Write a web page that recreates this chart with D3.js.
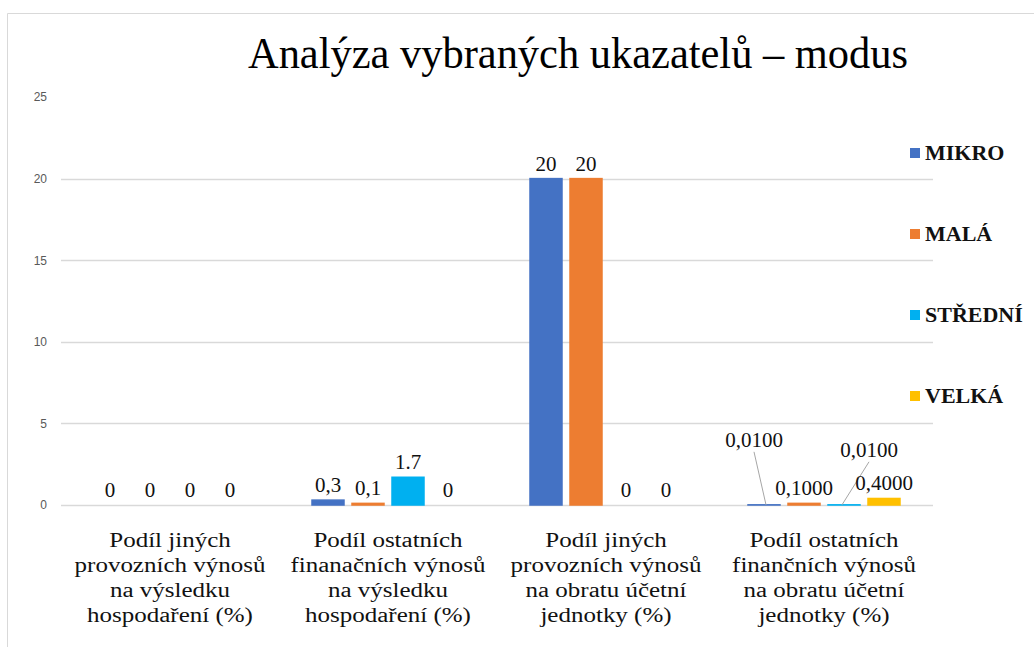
<!DOCTYPE html>
<html>
<head>
<meta charset="utf-8">
<script src="https://cdn.jsdelivr.net/npm/d3@7"></script>
<style>
  body { margin: 0; background: #fff; }
  svg { display: block; }
  .serif { font-family: 'Liberation Serif', 'Times New Roman', serif; }
  .sans { font-family: 'Liberation Sans', Arial, sans-serif; }
</style>
</head>
<body>
<div id="chart"></div>
<script>
var width = 1034;
var height = 647;

// data
var categories = [
    ['Podíl jiných', 'provozních výnosů', 'na výsledku', 'hospodaření (%)'],
    ['Podíl ostatních', 'finanačních výnosů', 'na výsledku', 'hospodaření (%)'],
    ['Podíl jiných', 'provozních výnosů', 'na obratu účetní', 'jednotky (%)'],
    ['Podíl ostatních', 'finančních výnosů', 'na obratu účetní', 'jednotky (%)']
];
var seriesNames = ['MIKRO', 'MALÁ', 'STŘEDNÍ', 'VELKÁ'];
var mikro = [0, 0.3, 20, 0.01];
var mala = [0, 0.1, 20, 0.1];
var stredni = [0, 1.7, 0, 0.01];
var velka = [0, 0, 0, 0.4];
var mikroLabels = ['0', '0,3', '20', '0,0100'];
var malaLabels = ['0', '0,1', '20', '0,1000'];
var stredniLabels = ['0', '1.7', '0', '0,0100'];
var velkaLabels = ['0', '0', '0', '0,4000'];
var yTicks = [0, 5, 10, 15, 20, 25];

var colors = ['#4472C4', '#ED7D31', '#00B0F0', '#FFC000'];
var values = [mikro, mala, stredni, velka];
var labels = [mikroLabels, malaLabels, stredniLabels, velkaLabels];

// moved labels with leader lines (series index, category index)
var moved = { '0-3': [-10, -50], '2-3': [25, -40] };

var svg = d3.select('#chart').append('svg')
    .attr('width', width)
    .attr('height', height);

// outer frame
svg.append('path')
    .attr('d', 'M7.5,647 V13.5 H1034')
    .attr('fill', 'none')
    .attr('stroke', '#d9d9d9');

// title
svg.append('text')
    .attr('class', 'serif')
    .attr('x', 578)
    .attr('y', 68)
    .attr('text-anchor', 'middle')
    .attr('font-size', 44)
    .attr('textLength', 660)
    .attr('lengthAdjust', 'spacingAndGlyphs')
    .attr('fill', '#000')
    .text('Analýza vybraných ukazatelů – modus');

// scales
var x0 = d3.scaleBand()
    .domain(d3.range(categories.length))
    .range([61, 933]);

var x1 = d3.scaleBand()
    .domain(d3.range(seriesNames.length))
    .range([33, 185])
    .paddingInner(0.2);

var y = d3.scaleLinear()
    .domain([0, 25])
    .range([505, 97]);

// gridlines
svg.append('g').selectAll('line')
    .data(yTicks.filter(d => d < 25))
    .enter().append('line')
    .attr('x1', 61)
    .attr('x2', 933)
    .attr('y1', d => Math.round(y(d)) + 0.5)
    .attr('y2', d => Math.round(y(d)) + 0.5)
    .attr('stroke', '#d9d9d9')
    .attr('stroke-width', 1.3);

// y axis labels
var yAxis = d3.axisLeft(y).tickValues(yTicks).tickSize(0).tickPadding(0);
var yAxis_g = svg.append('g')
    .attr('transform', 'translate(47,0)')
    .call(yAxis);
yAxis_g.select('.domain').remove();
yAxis_g.attr('font-family', null);
yAxis_g.selectAll('text')
    .attr('class', 'sans')
    .attr('font-size', 12)
    .attr('fill', '#595959');

// bars
var groups = svg.append('g').selectAll('g')
    .data(categories)
    .enter().append('g')
    .attr('transform', (d, i) => `translate(${x0(i)},0)`);

seriesNames.forEach(function (name, s) {
    groups.append('rect')
        .attr('x', (d, i) => x1(s))
        .attr('width', x1.bandwidth())
        .attr('y', (d, i) => y(values[s][i]))
        .attr('height', (d, i) => y(0) - y(values[s][i]))
        .attr('fill', colors[s])
        .attr('stroke', (d, i) => values[s][i] > 0 ? colors[s] : 'none')
        .attr('stroke-width', 1.5);
});

// data labels
seriesNames.forEach(function (name, s) {
    categories.forEach(function (c, i) {
        var bx = x0(i) + x1(s) + x1.bandwidth() / 2;
        var by = y(values[s][i]);
        var off = moved[s + '-' + i] || [0, 0];
        var lx = bx + off[0];
        var ly = by - 8 + off[1];
        if (moved[s + '-' + i]) {
            svg.append('line')
                .attr('x1', lx)
                .attr('y1', ly + 5)
                .attr('x2', bx - 2 * Math.sign(off[0]))
                .attr('y2', by)
                .attr('stroke', '#a6a6a6')
                .attr('stroke-width', 1);
        }
        svg.append('text')
            .attr('class', 'serif')
            .attr('x', lx)
            .attr('y', ly)
            .attr('text-anchor', 'middle')
            .attr('font-size', 21)
            .attr('fill', '#111')
            .text(labels[s][i]);
    });
});

// category labels
categories.forEach(function (lines, i) {
    var cx = x0(i) + x0.bandwidth() / 2;
    lines.forEach(function (line, j) {
        svg.append('text')
            .attr('class', 'serif')
            .attr('transform', `translate(${cx},${547 + j * 25}) scale(1.25,1)`)
            .attr('text-anchor', 'middle')
            .attr('font-size', 20)
            .attr('fill', '#111')
            .text(line);
    });
});

// legend
var legend = svg.append('g').selectAll('g')
    .data(seriesNames)
    .enter().append('g')
    .attr('transform', (d, i) => `translate(910,${153 + i * 81})`);

legend.append('rect')
    .attr('x', 0)
    .attr('y', -5)
    .attr('width', 10)
    .attr('height', 10)
    .attr('fill', (d, i) => colors[i]);

legend.append('text')
    .attr('class', 'serif')
    .attr('transform', 'translate(15,7) scale(1.1,1)')
    .attr('font-weight', 'bold')
    .attr('font-size', 20)
    .attr('fill', '#111')
    .text(d => d);
</script>
</body>
</html>
